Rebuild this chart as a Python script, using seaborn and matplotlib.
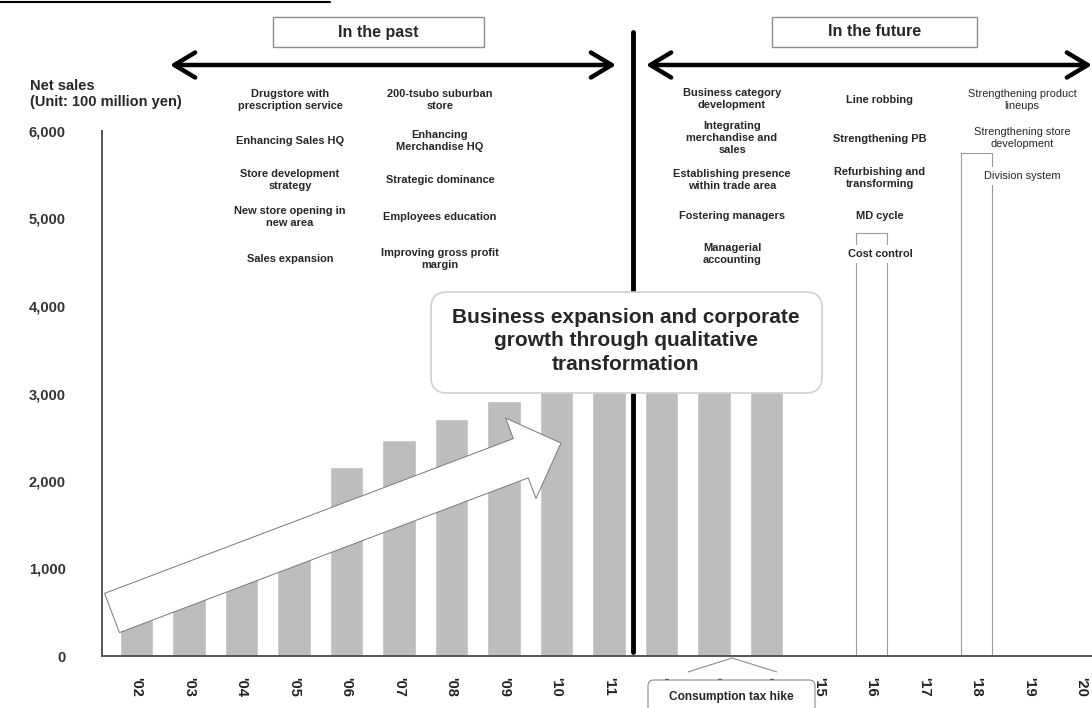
import numpy as np
import pandas as pd
import matplotlib
matplotlib.use("Agg")
import matplotlib.pyplot as plt
import seaborn as sns
from matplotlib.patches import FancyArrow, FancyBboxPatch, FancyArrowPatch, Rectangle, Polygon
from matplotlib.lines import Line2D
from matplotlib.transforms import IdentityTransform

# ---------------- data ----------------
years = ["'02", "'03", "'04", "'05", "'06", "'07", "'08", "'09", "'10", "'11",
         "'12", "'13", "'14", "'15", "'16", "'17", "'18", "'19", "'20"]
actual_years = years[:13]
actual_sales = [500, 750, 950, 1300, 2155, 2463, 2714, 2919, 3200, 3400, 3600, 3800, 4000]
target_years = ["'16", "'18"]
target_sales = [4835, 5750]
y_ticks = [0, 1000, 2000, 3000, 4000, 5000, 6000]

past_col1 = ["Drugstore with\nprescription service", "Enhancing Sales HQ",
             "Store development\nstrategy", "New store opening in\nnew area", "Sales expansion"]
past_col2 = ["200-tsubo suburban\nstore", "Enhancing\nMerchandise HQ", "Strategic dominance",
             "Employees education", "Improving gross profit\nmargin"]
fut_col1 = ["Business category\ndevelopment", "Integrating\nmerchandise and\nsales",
            "Establishing presence\nwithin trade area", "Fostering managers", "Managerial\naccounting"]
fut_col2 = ["Line robbing", "Strengthening PB", "Refurbishing and\ntransforming", "MD cycle", "Cost control"]
fut_col3 = ["Strengthening product\nlineups", "Strengthening store\ndevelopment", "Division system"]

# ---------------- figure ----------------
W, H = 1092, 708
sns.set_theme(style="white")
plt.rcParams['font.family'] = ['Liberation Sans', 'DejaVu Sans']
fig = plt.figure(figsize=(W / 100, H / 100), dpi=100)
ax = fig.add_axes([102 / W, 1 - 656 / H, 1 - 102 / W, (656 - 131) / H])

df_a = pd.DataFrame({"year": actual_years, "sales": actual_sales})
df_t = pd.DataFrame({"year": target_years, "sales": target_sales})
sns.barplot(data=df_a, x="year", y="sales", order=years, color="#bdbdbd",
            saturation=1, width=0.63, ax=ax, zorder=2)
sns.barplot(data=df_t, x="year", y="sales", order=years, facecolor="white",
            edgecolor="#9a9a9a", linewidth=0.8, width=0.6, ax=ax, zorder=2)

ax.set_xlim(-0.657, 18.2)
ax.set_ylim(0, 6000)
ax.set_yticks(y_ticks)
ax.set_yticklabels([f"{v:,}" for v in y_ticks], fontsize=10.5, fontweight="bold", color="#333333")
ax.set_xticks(range(len(years)))
ax.set_xticklabels(years, rotation=270, fontsize=10.5, fontweight="bold", color="#222222", va="top")
ax.tick_params(axis="x", length=0, pad=15)
ax.set_xticks(np.arange(len(years) - 1) + 0.33, minor=True)
ax.tick_params(axis="x", which="minor", direction="in", length=4, width=1, color="#555555")
ax.tick_params(axis="y", direction="in", length=4, width=1, color="#555555", pad=26)
ax.set_xlabel("")
ax.set_ylabel("")
for s in ["top", "right"]:
    ax.spines[s].set_visible(False)
for s in ["left", "bottom"]:
    ax.spines[s].set_color("#555555")
    ax.spines[s].set_linewidth(1.4)

# -------------- annotations (pixel coordinates) --------------
def P(x, y):
    return (x / W, 1 - y / H)

def D(x, y):
    return (x, H - y)

ID = IdentityTransform()

# top-left rule
fig.add_artist(Line2D([0, 330 / W], [1 - 2 / H, 1 - 2 / H], color="black", lw=1.5))

# header boxes
for (x0, x1, label) in [(273, 484, "In the past"), (772, 977, "In the future")]:
    fig.add_artist(Rectangle(D(x0, 47), x1 - x0, 30, transform=ID, fill=False,
                             edgecolor="#8c8c8c", lw=1))
    fig.text(*P((x0 + x1) / 2, 32), label, ha="center", va="center",
             fontsize=11.5, fontweight="bold")

# double arrows
for (x0, x1) in [(170, 616), (646, 1092)]:
    fig.add_artist(FancyArrowPatch(D(x0, 65), D(x1, 65), transform=ID,
                                   arrowstyle="<->,head_length=0.75,head_width=0.45",
                                   mutation_scale=20, lw=3.2, color="black",
                                   shrinkA=0, shrinkB=0))

# vertical divider
fig.add_artist(Line2D([633 / W, 633 / W], [1 - 32 / H, 1 - 652 / H], color="black", lw=3.5))

# axis label
fig.text(*P(30, 94), "Net sales\n(Unit: 100 million yen)", ha="left", va="center",
         fontsize=10.5, fontweight="bold", linespacing=1.2)

small = dict(ha="center", va="center", fontsize=7.9, linespacing=1.3)
past_y = [100, 141, 180, 217, 259]
for t, y in zip(past_col1, past_y):
    fig.text(*P(290, y), t, fontweight="bold", **small)
for t, y in zip(past_col2, past_y):
    fig.text(*P(440, y), t, fontweight="bold", **small)
fut_y1 = [99, 138, 180, 216, 254]
for t, y in zip(fut_col1, fut_y1):
    fig.text(*P(732, y), t, fontweight="bold", **small)
fut_y2 = [100, 139, 178, 216, 254]
for t, y in zip(fut_col2, fut_y2):
    fig.text(*P(880, y), t, fontweight="bold", zorder=5,
             bbox=dict(facecolor="white", edgecolor="none", pad=3), **small)
fut_y3 = [100, 138, 176]
for t, y in zip(fut_col3, fut_y3):
    fig.text(*P(1022, y), t, fontweight="normal", zorder=5,
             bbox=dict(facecolor="white", edgecolor="none", pad=3), **small)

# big growth arrow
fig.add_artist(FancyArrow(112, H - 613, 449, 170, width=42, head_width=86, head_length=43,
                          length_includes_head=True, transform=ID, facecolor="white",
                          edgecolor="#777777", lw=0.7, zorder=4))

# central message box
fig.add_artist(FancyBboxPatch(D(431, 393), 391, 101, transform=ID,
                              boxstyle="round,pad=0,rounding_size=16",
                              facecolor="white", edgecolor="#d0d0d0", lw=1.2, zorder=5))
fig.text(*P(626, 341), "Business expansion and corporate\ngrowth through qualitative\ntransformation",
         ha="center", va="center", fontsize=15, fontweight="bold", linespacing=1.3, zorder=6)

# consumption tax callout
fig.add_artist(Polygon([D(688, 672), D(732, 658), D(777, 672)], closed=False, transform=ID,
                       fill=False, edgecolor="#8c8c8c", lw=0.8, zorder=5))
fig.add_artist(FancyBboxPatch(D(648, 720), 167, 40, transform=ID,
                              boxstyle="round,pad=0,rounding_size=6",
                              facecolor="white", edgecolor="#8c8c8c", lw=0.8, zorder=5))
fig.text(*P(731, 697), "Consumption tax hike", ha="center", va="center",
         fontsize=8.6, fontweight="bold", zorder=6)

fig.savefig("out.png", dpi=100)
